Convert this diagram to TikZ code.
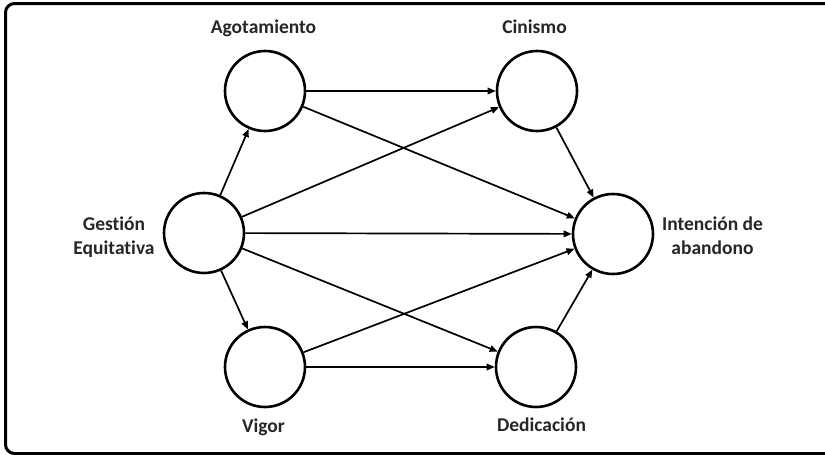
\documentclass[tikz,border=0pt]{standalone}
\usepackage{fontspec}
\setmainfont{Carlito}[Ligatures=NoCommon]
\usetikzlibrary{arrows.meta}
\definecolor{labelgray}{RGB}{38,38,38}
\begin{document}
\begin{tikzpicture}[x=1pt,y=-1pt,
  var/.style={circle,draw=black,line width=2.6pt,minimum size=80pt,inner sep=0pt},
  lbl/.style={text=labelgray,font=\fontsize{19.5}{24}\selectfont\bfseries,inner sep=0pt},
  arr/.style={draw=black,line width=1.7pt,-{Triangle[length=8pt,width=6.5pt]}}]
\useasboundingbox (0,0) rectangle (825,455);
\begin{scope}
\clip (0,0) rectangle (825,455);
\draw[line width=3pt,rounded corners=9pt] (840,3.5) -- (5.5,3.5) -- (5.5,453.5) -- (840,453.5);
\end{scope}
% variables
\node[var] (ago) at (265,91) {};
\node[var] (cin) at (537,91) {};
\node[var] (ges) at (204,233) {};
\node[var] (int) at (613,234) {};
\node[var] (vig) at (265,367) {};
\node[var] (ded) at (536,367) {};
% labels
\node[lbl,anchor=base] (lago) at (263.5,33) {Agotamiento};
\node[lbl,anchor=base] (lcin) at (534.5,33) {Cinismo};
\node[lbl,align=center] (lges) at (114,237) {Gestión\\Equitativa};
\node[lbl,align=center] (lint) at (712.5,236) {Intención de\\abandono};
\node[lbl,anchor=base] (lvig) at (263.5,432) {Vigor};
\node[lbl,anchor=base] (lded) at (541.5,431) {Dedicación};
% connectors
\draw[arr] (ges) -- (ago);
\draw[arr] (ges) -- (vig);
\draw[arr] (ges) -- (cin);
\draw[arr] (ges) -- (int);
\draw[arr] (ges) -- (ded);
\draw[arr] (ago) -- (cin);
\draw[arr] (ago) -- (int);
\draw[arr] (vig) -- (ded);
\draw[arr] (vig) -- (int);
\draw[arr] (cin) -- (int);
\draw[arr] (ded) -- (int);
\end{tikzpicture}
\end{document}
